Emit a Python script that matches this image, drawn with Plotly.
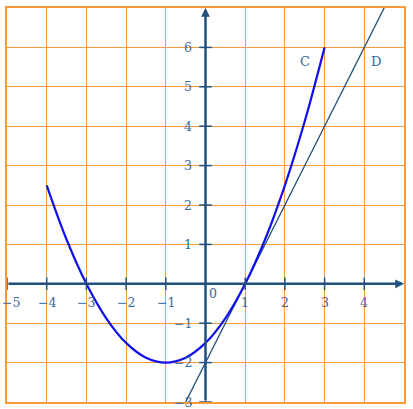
import plotly.graph_objects as go

# Curve C
c_x = [-4, -3.5, -3, -2.5, -2, -1.5, -1, -0.5, 0, 0.5, 1, 1.5, 2, 2.5, 3]
c_y = [2.5, 1.125, 0, -0.875, -1.5, -1.875, -2, -1.875, -1.5, -0.875, 0, 1.125, 2.5, 4.125, 6]
# Line D
d_x = [-0.5, 4.5]
d_y = [-3, 7]
# Ticks
x_ticks = [-5, -4, -3, -2, -1, 1, 2, 3, 4]
x_labels = ["−5", "−4", "−3", "−2", "−1", "1", "2", "3", "4"]
y_ticks = [-3, -2, -1, 1, 2, 3, 4, 5, 6]
y_labels = ["−3", "−2", "−1", "1", "2", "3", "4", "5", "6"]

AX = "#1f5080"
LAB = "#3568a0"
ORANGE = "#f79a3c"
FONT = "DejaVu Serif"
FS = 12.5

fig = go.Figure()
fig.add_trace(go.Scatter(x=d_x, y=d_y, mode="lines",
                         line=dict(color="#1f4f7a", width=1.3), hoverinfo="skip"))
fig.add_trace(go.Scatter(x=c_x, y=c_y, mode="lines", line_shape="spline",
                         line=dict(color="#1010ee", width=2.2), hoverinfo="skip"))
# tick marks
fig.add_trace(go.Scatter(x=x_ticks, y=[0]*len(x_ticks), mode="markers",
                         marker=dict(symbol="line-ns-open", size=9, color=AX,
                                     line=dict(color=AX, width=1.5)),
                         hoverinfo="skip"))
fig.add_trace(go.Scatter(x=[0]*len(y_ticks), y=y_ticks, mode="markers",
                         marker=dict(symbol="line-ew-open", size=9, color=AX,
                                     line=dict(color=AX, width=1.5)),
                         hoverinfo="skip"))

ann = []
# axes arrows
ann.append(dict(x=5, y=0, ax=-5, ay=0, xref="x", yref="y", axref="x", ayref="y",
                showarrow=True, arrowhead=2, arrowsize=0.7, arrowwidth=2.5, arrowcolor=AX, text=""))
ann.append(dict(x=0, y=7, ax=0, ay=-3, xref="x", yref="y", axref="x", ayref="y",
                showarrow=True, arrowhead=2, arrowsize=0.7, arrowwidth=2.5, arrowcolor=AX, text=""))
for v, t in zip(x_ticks, x_labels):
    if v == x_ticks[0]:
        ann.append(dict(x=v, y=0, text=t, showarrow=False, yshift=-19, xshift=-7, xanchor="left",
                        yanchor="middle", font=dict(family=FONT, size=FS, color=LAB)))
    else:
        ann.append(dict(x=v, y=0, text=t, showarrow=False, yshift=-19, xanchor="center",
                        yanchor="middle", font=dict(family=FONT, size=FS, color=LAB)))
for v, t in zip(y_ticks, y_labels):
    ann.append(dict(x=0, y=v, text=t, showarrow=False, xshift=-12, xanchor="right", yanchor="middle",
                    font=dict(family=FONT, size=FS, color=LAB)))
ann.append(dict(x=0, y=0, text="0", showarrow=False, xshift=7, yshift=-10, xanchor="center",
                yanchor="middle", font=dict(family=FONT, size=FS, color=LAB)))
ann.append(dict(x=2.5, y=5.65, text="C", showarrow=False, font=dict(family=FONT, size=13, color=LAB)))
ann.append(dict(x=4.3, y=5.65, text="D", showarrow=False, font=dict(family=FONT, size=13, color=LAB)))

fig.update_layout(
    width=413, height=409,
    margin=dict(l=7, r=9, t=6, b=7),
    paper_bgcolor="white", plot_bgcolor="white",
    showlegend=False,
    annotations=ann,
    xaxis=dict(range=[-5, 5], dtick=1, tick0=0, showgrid=True, gridcolor=ORANGE, gridwidth=1.3,
               zeroline=False, showticklabels=False, ticks="", showline=True, mirror=True,
               linecolor=ORANGE, linewidth=1.5, fixedrange=True),
    yaxis=dict(range=[-3, 7], dtick=1, tick0=0, showgrid=True, gridcolor=ORANGE, gridwidth=1.3,
               zeroline=False, showticklabels=False, ticks="", showline=True, mirror=True,
               linecolor=ORANGE, linewidth=1.5, fixedrange=True),
)
fig.write_html("out.html", config={"displayModeBar": False},
               post_script="document.body.style.margin='0';document.body.style.overflow='hidden';")
